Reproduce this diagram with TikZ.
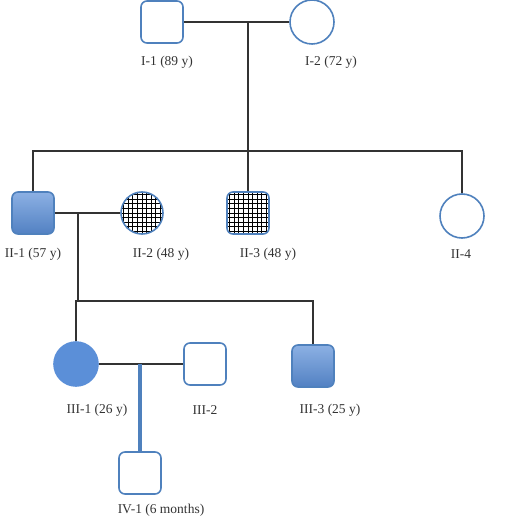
\documentclass[tikz,border=0pt]{standalone}
\usepackage{fontspec}
\setmainfont{Liberation Serif}
\usetikzlibrary{positioning}
\definecolor{pedblue}{RGB}{79,129,189}
\definecolor{pedfill}{RGB}{91,143,216}

\begin{document}
\begin{tikzpicture}[
    x=1pt, y=-1pt,
    male/.style={draw=pedblue, line width=1.6pt, rounded corners=6pt,
                 minimum size=42pt, inner sep=0pt, fill=white},
    female/.style={circle, draw=pedblue, line width=1.6pt,
                   minimum size=44pt, inner sep=0pt, fill=white},
    affected/.style={top color=pedfill!70!white, bottom color=pedfill!90!black},
    carrier/.style={path picture={\draw[black, line width=0.8pt, step=4.6pt]
        (path picture bounding box.south west) grid (path picture bounding box.north east);}},
    lbl/.style={font=\fontsize{13.5}{15}\selectfont, text=black!80},
    link/.style={draw=black!80, line width=1.6pt},
  ]
  \useasboundingbox (0,0) rectangle (512,518);
  % --- generation I ---
  \node[male] (i1) at (162,22) {};
  \node[female] (i2) at (312,22) {};
  \node[lbl] (li1) at (167,62) {I-1 (89 y)};
  \node[lbl] (li2) at (331,62) {I-2 (72 y)};
  % --- generation II ---
  \node[male, affected] (ii1) at (33,213) {};
  \node[female, minimum size=42pt, carrier] (ii2) at (142,213) {};
  \node[male, carrier] (ii3) at (248,213) {};
  \node[female] (ii4) at (462,216) {};
  \node[lbl] (lii1) at (33,254) {II-1 (57 y)};
  \node[lbl] (lii2) at (161,254) {II-2 (48 y)};
  \node[lbl] (lii3) at (268,254) {II-3 (48 y)};
  \node[lbl] (lii4) at (461,254) {II-4};
  % --- generation III ---
  \node[female, fill=pedfill, draw=pedfill] (iii1) at (76,364) {};
  \node[male] (iii2) at (205,364) {};
  \node[male, affected] (iii3) at (313,366) {};
  \node[lbl] (liii1) at (97,410) {III-1 (26 y)};
  \node[lbl] (liii2) at (205,410) {III-2};
  \node[lbl] (liii3) at (330,410) {III-3 (25 y)};
  % --- generation IV ---
  \node[male] (iv1) at (140,473) {};
  \node[lbl] (liv1) at (161,510) {IV-1 (6 months)};

  % --- lines ---
  \coordinate (c1) at (248,22);
  \coordinate (s1) at (248,151);
  \draw[link] (i1) -- (i2);
  \draw[link] (c1) -- (s1);
  \draw[link] (ii1.north) |- (ii4.north |- s1) -- (ii4.north);
  \draw[link] (ii3.north) -- (ii3.north |- s1);
  \coordinate (c2) at (78,213);
  \coordinate (s2) at (78,301);
  \draw[link] (ii1) -- (ii2);
  \draw[link] (c2) -- (s2);
  \draw[link] (iii1.north) |- (iii3.north |- s2) -- (iii3.north);
  \coordinate (c3) at (140,364);
  \draw[link] (iii1) -- (iii2);
  \draw[pedblue, line width=3.5pt] (c3) -- (iv1.north);
\end{tikzpicture}
\end{document}
